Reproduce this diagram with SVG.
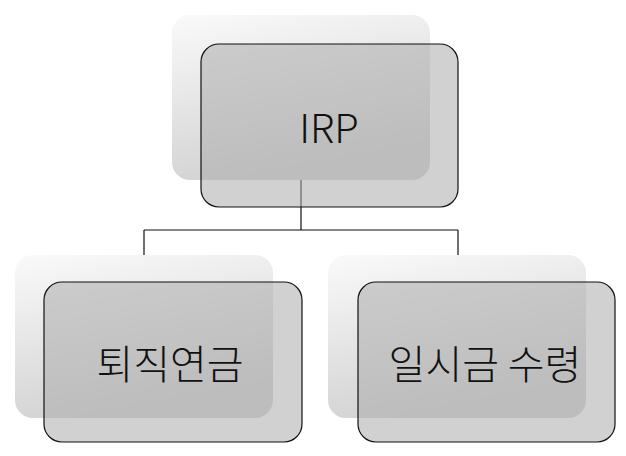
<svg xmlns="http://www.w3.org/2000/svg" width="626" height="456" viewBox="0 0 626 456">
<defs>
<linearGradient id="bg" x1="0" y1="0" x2="0.3" y2="1">
<stop offset="0" stop-color="#fafafa"/><stop offset="1" stop-color="#d2d2d2"/>
</linearGradient>
<style>
.back{fill:url(#bg)}
.front{fill:#acacac;fill-opacity:0.55;stroke:#111;stroke-width:1.2}
.t{font-family:"Noto Sans CJK KR","Noto Sans",sans-serif;font-size:40px;font-weight:300;fill:#111;text-anchor:middle;dominant-baseline:central}
.c{fill:none;stroke:#111;stroke-width:1.2}
</style>
</defs>
<rect width="626" height="456" fill="#fff"/>
<g id="connectors">
<path class="c" d="M301 180V230M144 230H458M144 230V255M458 230V255"/>
</g>
<g id="irp">
<rect class="back" x="172" y="15" width="258" height="165" rx="18"/>
<rect class="front" x="201" y="44" width="257" height="163" rx="18"/>
<text class="t" x="329" y="126">IRP</text>
</g>
<g id="pension">
<rect class="back" x="15" y="255" width="258" height="163" rx="18"/>
<rect class="front" x="44" y="282" width="258" height="160" rx="18"/>
<text class="t" x="170" y="362">퇴직연금</text>
</g>
<g id="lump">
<rect class="back" x="328" y="255" width="258" height="163" rx="18"/>
<rect class="front" x="358" y="282" width="257" height="160" rx="18"/>
<text class="t" x="485" y="362">일시금 수령</text>
</g>
</svg>
